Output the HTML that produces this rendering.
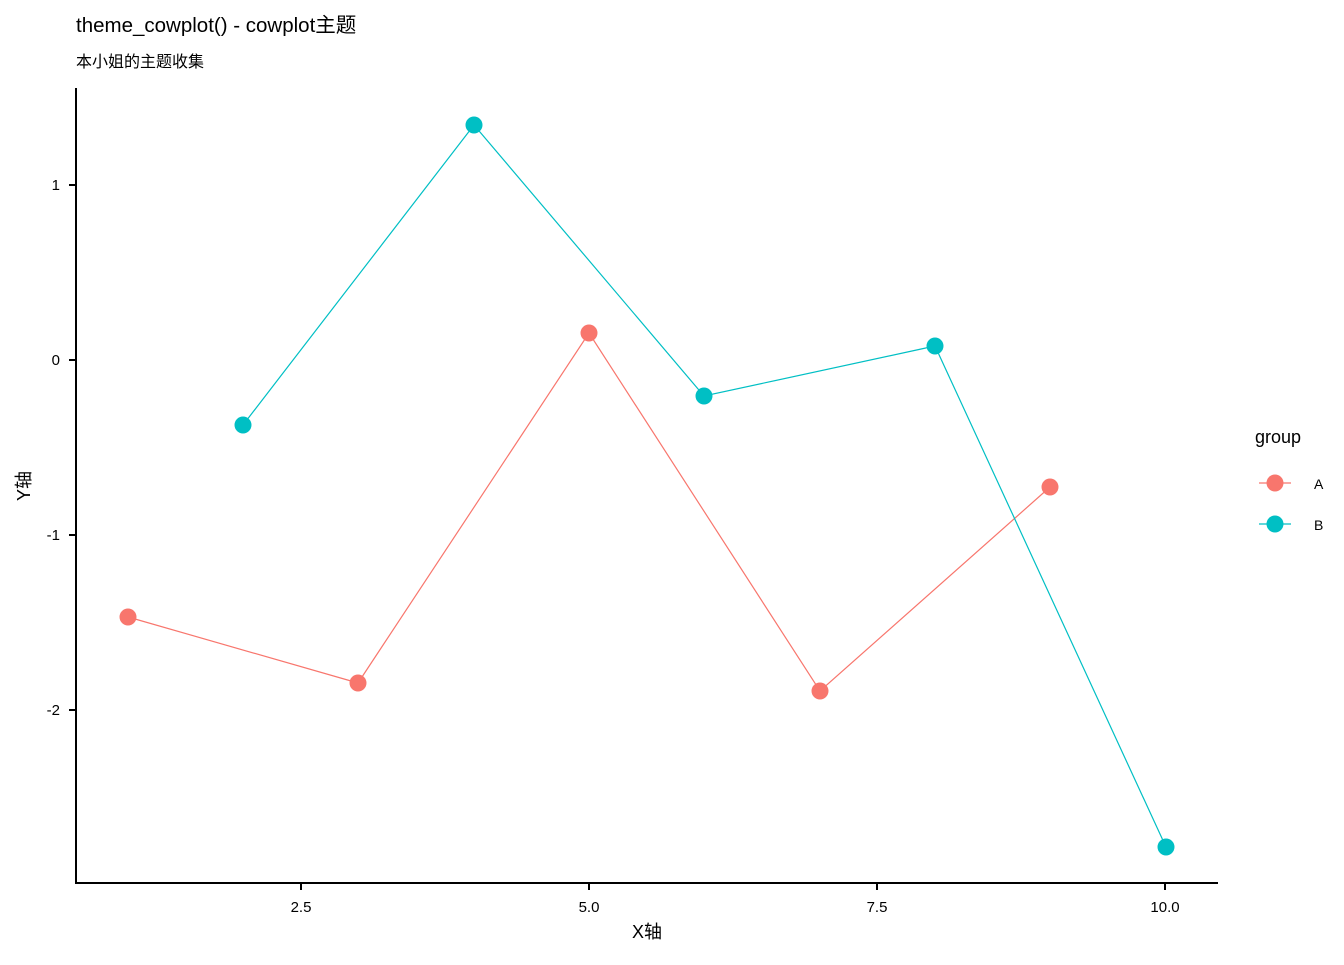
<!DOCTYPE html>
<html><head><meta charset="utf-8"><style>
body{margin:0;background:#fff;}
svg text{font-family:"Liberation Sans","Noto Sans CJK SC",sans-serif;}
</style></head><body>
<svg width="1344" height="960" xmlns="http://www.w3.org/2000/svg">
<rect width="1344" height="960" fill="#fff"/>
<text x="76" y="32" font-size="20.5" fill="#000">theme_cowplot() - cowplot主题</text>
<text x="76" y="67" font-size="16" fill="#000">本小姐的主题收集</text>
<line x1="76" y1="88" x2="76" y2="884" stroke="#000" stroke-width="2"/>
<line x1="75" y1="883" x2="1218" y2="883" stroke="#000" stroke-width="2"/>
<g stroke="#000" stroke-width="2">
<line x1="69" y1="185" x2="76" y2="185"/><line x1="69" y1="360" x2="76" y2="360"/>
<line x1="69" y1="535" x2="76" y2="535"/><line x1="69" y1="710" x2="76" y2="710"/>
<line x1="301" y1="883" x2="301" y2="890"/><line x1="589" y1="883" x2="589" y2="890"/>
<line x1="877" y1="883" x2="877" y2="890"/><line x1="1165" y1="883" x2="1165" y2="890"/>
</g>
<g font-size="15" fill="#000" text-anchor="end">
<text x="60" y="190">1</text><text x="60" y="365">0</text><text x="60" y="540">-1</text><text x="60" y="715">-2</text>
</g>
<g font-size="15" fill="#000" text-anchor="middle">
<text x="301" y="912">2.5</text><text x="589" y="912">5.0</text><text x="877" y="912">7.5</text><text x="1165" y="912">10.0</text>
</g>
<text x="647" y="938" font-size="18" text-anchor="middle">X轴</text>
<text transform="translate(30,486) rotate(-90)" font-size="18" text-anchor="middle">Y轴</text>
<polyline points="128,617 358,683 589,333 820,691 1050,487" fill="none" stroke="#F8766D" stroke-width="1.2"/>
<polyline points="243,425 474,125 704,396 935,346 1166,847" fill="none" stroke="#00BFC4" stroke-width="1.2"/>
<g fill="#F8766D"><circle cx="128" cy="617" r="8.5"/><circle cx="358" cy="683" r="8.5"/><circle cx="589" cy="333" r="8.5"/><circle cx="820" cy="691" r="8.5"/><circle cx="1050" cy="487" r="8.5"/></g>
<g fill="#00BFC4"><circle cx="243" cy="425" r="8.5"/><circle cx="474" cy="125" r="8.5"/><circle cx="704" cy="396" r="8.5"/><circle cx="935" cy="346" r="8.5"/><circle cx="1166" cy="847" r="8.5"/></g>
<text x="1255" y="443" font-size="18">group</text>
<line x1="1259" y1="483" x2="1291" y2="483" stroke="#F8766D" stroke-width="1.2"/>
<circle cx="1275" cy="483" r="8.5" fill="#F8766D"/>
<line x1="1259" y1="524" x2="1291" y2="524" stroke="#00BFC4" stroke-width="1.2"/>
<circle cx="1275" cy="524" r="8.5" fill="#00BFC4"/>
<text x="1314" y="489" font-size="14">A</text>
<text x="1314" y="530" font-size="14">B</text>
</svg>
</body></html>
